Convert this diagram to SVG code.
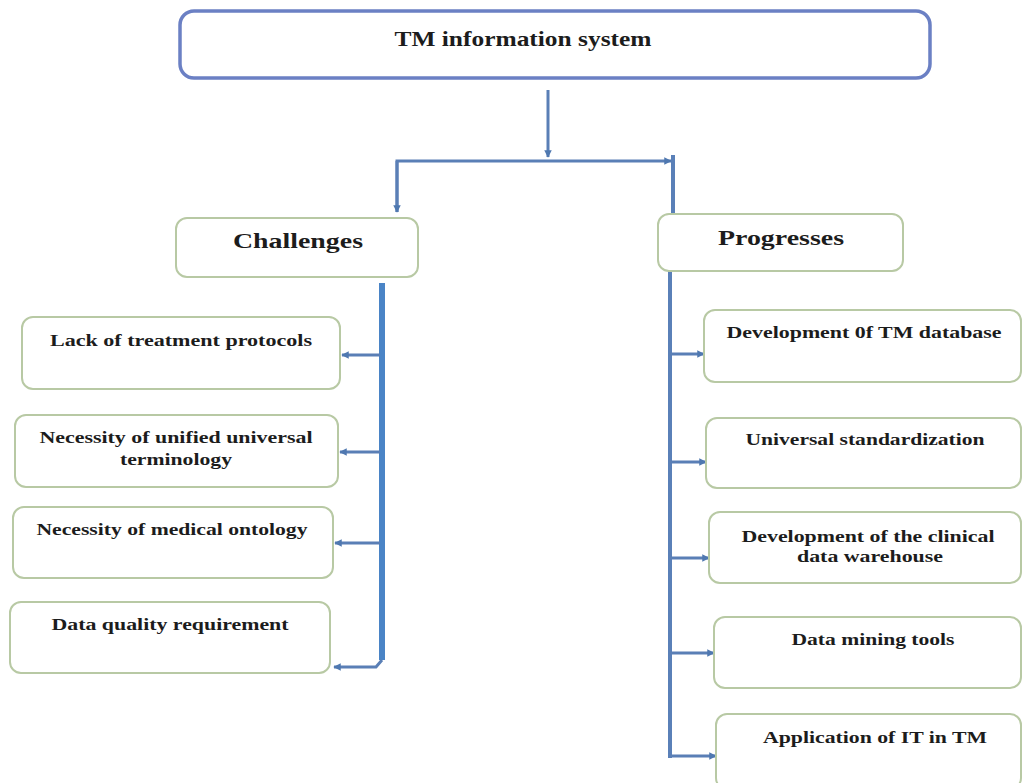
<svg xmlns="http://www.w3.org/2000/svg" width="1023" height="783" viewBox="0 0 1023 783">
<style>
.top{fill:#fff;stroke:#6b80c4;stroke-width:3.5}
.box{fill:#fff;stroke:#b8c9a4;stroke-width:2}
text{font-family:"Liberation Serif","Times New Roman",serif;font-weight:bold;fill:#1c1c1c;text-anchor:middle}
.t1{font-size:22px}
.t2{font-size:21px}
.t3{font-size:16px}
.c{fill:none;stroke:#5a7fb6;stroke-width:3}
.thick{fill:none;stroke:#4a84c6;stroke-width:6}
.mid{fill:none;stroke:#5a80b8;stroke-width:4}
</style>
<defs>
<marker id="ah" viewBox="0 0 10 10" refX="9" refY="5" markerWidth="2.5" markerHeight="2.5" orient="auto" markerUnits="strokeWidth">
<path d="M0,0 L10,5 L0,10 z" fill="#4f78b0"/>
</marker>
</defs>
<rect width="1023" height="783" fill="#fff"/>
<g id="connectors">
<path class="c" d="M548 90 V157" marker-end="url(#ah)"/>
<path class="c" d="M397 212 V161 H671" marker-end="url(#ah)"/>
<path class="c" d="M397 161 V212" marker-end="url(#ah)"/>
<path class="mid" d="M673 155 V214"/>
<path class="thick" d="M382 283 V660"/>
<path class="c" d="M382 660 L376 667 H334" marker-end="url(#ah)"/>
<path class="c" d="M380 355 H342" marker-end="url(#ah)"/>
<path class="c" d="M380 452 H340" marker-end="url(#ah)"/>
<path class="c" d="M380 543 H335" marker-end="url(#ah)"/>
<path class="mid" d="M670 270 V758"/>
<path class="c" d="M670 354 H704" marker-end="url(#ah)"/>
<path class="c" d="M670 462 H706" marker-end="url(#ah)"/>
<path class="c" d="M670 558 H709" marker-end="url(#ah)"/>
<path class="c" d="M670 653 H714" marker-end="url(#ah)"/>
<path class="c" d="M670 756 H716" marker-end="url(#ah)"/>
</g>
<g id="n-top">
<rect class="top" x="180" y="11" width="750" height="67" rx="14"/>
<text class="t1" x="523" y="46" textLength="257" lengthAdjust="spacingAndGlyphs">TM information system</text>
</g>
<g id="n-challenges">
<rect class="box" x="176" y="218" width="242" height="59" rx="11"/>
<text class="t2" x="298" y="248" textLength="130" lengthAdjust="spacingAndGlyphs">Challenges</text>
</g>
<g id="n-progresses">
<rect class="box" x="658" y="214" width="245" height="57" rx="11"/>
<text class="t2" x="781" y="245" textLength="126" lengthAdjust="spacingAndGlyphs">Progresses</text>
</g>
<g id="n-c1">
<rect class="box" x="22" y="317" width="318" height="72" rx="11"/>
<text class="t3" x="181" y="346" textLength="262" lengthAdjust="spacingAndGlyphs">Lack of treatment protocols</text>
</g>
<g id="n-c2">
<rect class="box" x="15" y="415" width="323" height="72" rx="11"/>
<text class="t3" x="176" y="443" textLength="273" lengthAdjust="spacingAndGlyphs">Necessity of unified universal</text>
<text class="t3" x="176" y="465" textLength="112" lengthAdjust="spacingAndGlyphs">terminology</text>
</g>
<g id="n-c3">
<rect class="box" x="13" y="507" width="320" height="71" rx="11"/>
<text class="t3" x="172" y="535" textLength="271" lengthAdjust="spacingAndGlyphs">Necessity of medical ontology</text>
</g>
<g id="n-c4">
<rect class="box" x="10" y="602" width="320" height="71" rx="11"/>
<text class="t3" x="170" y="630" textLength="237" lengthAdjust="spacingAndGlyphs">Data quality requirement</text>
</g>
<g id="n-p1">
<rect class="box" x="704" y="310" width="317" height="72" rx="11"/>
<text class="t3" x="864" y="338" textLength="275" lengthAdjust="spacingAndGlyphs">Development 0f TM database</text>
</g>
<g id="n-p2">
<rect class="box" x="706" y="418" width="315" height="70" rx="11"/>
<text class="t3" x="865" y="445" textLength="239" lengthAdjust="spacingAndGlyphs">Universal standardization</text>
</g>
<g id="n-p3">
<rect class="box" x="709" y="512" width="312" height="71" rx="11"/>
<text class="t3" x="868" y="542" textLength="253" lengthAdjust="spacingAndGlyphs">Development of the clinical</text>
<text class="t3" x="870" y="562" textLength="146" lengthAdjust="spacingAndGlyphs">data warehouse</text>
</g>
<g id="n-p4">
<rect class="box" x="714" y="617" width="307" height="71" rx="11"/>
<text class="t3" x="873" y="645" textLength="163" lengthAdjust="spacingAndGlyphs">Data mining tools</text>
</g>
<g id="n-p5">
<rect class="box" x="716" y="714" width="305" height="75" rx="11"/>
<text class="t3" x="875" y="743" textLength="224" lengthAdjust="spacingAndGlyphs">Application of IT in TM</text>
</g>
</svg>
